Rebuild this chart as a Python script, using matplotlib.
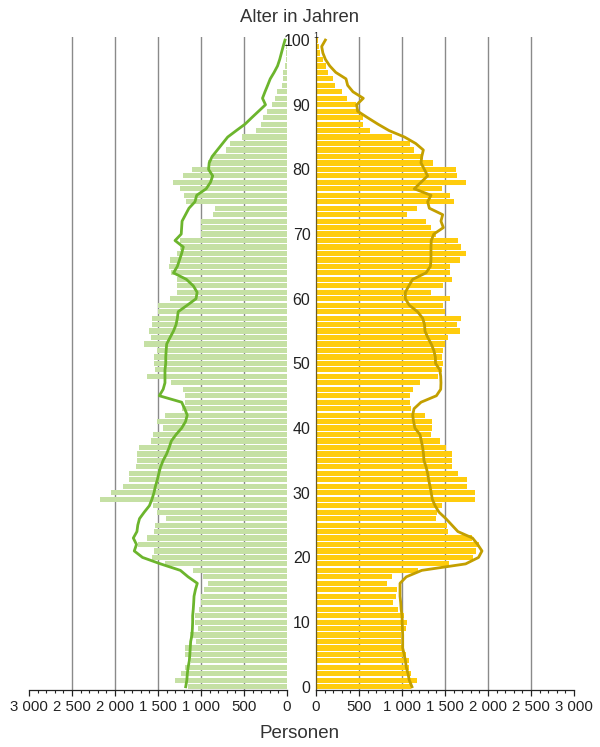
import matplotlib
matplotlib.use('Agg')
import matplotlib.pyplot as plt
from matplotlib.ticker import MultipleLocator, FixedLocator

plt.rcParams['font.family'] = ['Liberation Sans', 'DejaVu Sans']

ages = list(range(101))

male_bars = [1147, 1302, 1233, 1186, 1120, 1186, 1186, 1062, 1128, 1031,
             1070, 1070, 1020, 1000, 1000, 965, 915, 973, 1089, 1419,
             1566, 1547, 1729, 1624, 1547, 1535, 1407, 1516, 1562, 2175,
             2047, 1904, 1834, 1834, 1756, 1741, 1741, 1718, 1586, 1562,
             1438, 1508, 1419, 1225, 1186, 1186, 1213, 1349, 1632, 1535,
             1547, 1547, 1516, 1663, 1582, 1605, 1574, 1574, 1497, 1497,
             1361, 1275, 1275, 1275, 1353, 1372, 1361, 1283, 1244, 1244,
             1000, 1000, 1000, 857, 837, 1175, 1198, 1244, 1326, 1209,
             1101, 915, 857, 709, 663, 519, 360, 302, 275, 236,
             178, 140, 112, 62, 50, 50, 23, 15, 10, 6, 5]

male_line = [1178, 1165, 1159, 1150, 1136, 1130, 1125, 1120, 1105, 1100,
             1097, 1097, 1090, 1085, 1081, 1065, 1043, 1150, 1240, 1470,
             1680, 1776, 1750, 1787, 1745, 1735, 1715, 1660, 1600, 1570,
             1547, 1530, 1508, 1490, 1470, 1440, 1400, 1370, 1345, 1290,
             1225, 1180, 1160, 1190, 1225, 1485, 1440, 1419, 1419, 1419,
             1410, 1410, 1405, 1399, 1360, 1320, 1290, 1275, 1265, 1160,
             1058, 1045, 1090, 1170, 1320, 1275, 1250, 1225, 1206, 1302,
             1230, 1225, 1220, 1180, 1140, 1070, 1050, 940, 890, 864,
             912, 905, 870, 810, 750, 690, 590, 488, 410, 330,
             250, 285, 256, 225, 195, 150, 110, 85, 65, 45, 23]

female_bars = [1109, 1178, 1109, 1085, 1085, 1050, 1008, 992, 992, 1050,
               1062, 1027, 957, 899, 934, 946, 829, 888, 1190, 1550,
               1822, 1860, 1891, 1810, 1539, 1527, 1395, 1407, 1465, 1853,
               1853, 1760, 1760, 1655, 1585, 1585, 1585, 1512, 1446, 1341,
               1353, 1353, 1271, 1109, 1097, 1097, 1132, 1209, 1419, 1465,
               1481, 1465, 1473, 1504, 1539, 1678, 1640, 1686, 1504, 1481,
               1562, 1341, 1481, 1585, 1562, 1562, 1678, 1748, 1686, 1655,
               1400, 1337, 1279, 1058, 1174, 1609, 1558, 1465, 1744, 1640,
               1628, 1364, 1240, 1143, 1097, 888, 632, 550, 550, 504,
               465, 364, 306, 225, 202, 143, 116, 85, 50, 39, 27]

female_line = [1116, 1085, 1070, 1050, 1040, 1025, 1008, 1008, 1008, 1005,
               1002, 1000, 990, 985, 977, 977, 977, 1050, 1230, 1740,
               1890, 1930, 1880, 1820, 1650, 1580, 1510, 1430, 1385, 1352,
               1340, 1326, 1310, 1298, 1280, 1255, 1250, 1240, 1225, 1209,
               1150, 1135, 1124, 1140, 1221, 1400, 1450, 1453, 1450, 1440,
               1390, 1388, 1370, 1340, 1300, 1267, 1262, 1240, 1180, 1085,
               1039, 1039, 1080, 1124, 1279, 1330, 1337, 1337, 1337, 1340,
               1370, 1481, 1453, 1473, 1318, 1298, 1337, 1143, 1220, 1298,
               1260, 1221, 1230, 1248, 1160, 1030, 850, 720, 600, 484,
               473, 550, 430, 368, 349, 230, 160, 110, 80, 66, 109]

x_ticks = [0, 500, 1000, 1500, 2000, 2500, 3000]
x_tick_labels = ['0', '500', '1 000', '1 500', '2 000', '2 500', '3 000']
grid_vals = [500, 1000, 1500, 2000, 2500]
age_ticks = [0, 10, 20, 30, 40, 50, 60, 70, 80, 90, 100]
age_labels = [str(a) for a in age_ticks]

green_bar = '#c5e0a4'
green_line = '#6cb52d'
yellow_bar = '#ffcc0d'
gold_line = '#c39f00'
text_col = '#222222'

fig = plt.figure(figsize=(6, 7.47), dpi=100)
bottom = 0.0763
height = 0.8744
axL = fig.add_axes([29/600, bottom, 258/600, height])
axR = fig.add_axes([316/600, bottom, 258/600, height])

for ax in (axL, axR):
    ax.set_ylim(-0.5, 100.5)
    ax.set_xlim(0, 3000)
    for v in grid_vals:
        ax.axvline(v, color='#8a8a8a', lw=1.0, zorder=0)
    ax.set_xticks(x_ticks)
    ax.set_xticklabels(x_tick_labels)
    ax.xaxis.set_minor_locator(MultipleLocator(100))
    ax.tick_params(axis='x', which='major', length=4.5, width=0.9, color='#222222',
                   labelsize=10.8, labelcolor=text_col, pad=3)
    ax.tick_params(axis='x', which='minor', length=2.5, width=0.8, color='#222222')
    ax.spines['top'].set_visible(False)
    ax.spines['bottom'].set_color('#222222')
    ax.spines['bottom'].set_linewidth(0.9)
    ax.set_facecolor('none')

axL.invert_xaxis()
axL.barh(ages, male_bars, height=0.8, color=green_bar, zorder=2, linewidth=0)
axL.plot(male_line, ages, color=green_line, lw=2.0, zorder=3, solid_joinstyle='round')
axL.spines['left'].set_visible(False)
axL.spines['right'].set_visible(False)
axL.set_yticks([])

axR.barh(ages, female_bars, height=0.8, color=yellow_bar, zorder=2, linewidth=0)
axR.plot(female_line, ages, color=gold_line, lw=2.0, zorder=3, solid_joinstyle='round')
axR.spines['right'].set_visible(False)
axR.spines['left'].set_color('#6b5a20')
axR.spines['left'].set_linewidth(0.9)
axR.yaxis.set_major_locator(FixedLocator(age_ticks))
axR.set_yticklabels(age_labels)
axR.tick_params(axis='y', length=0, pad=4, labelsize=11.5, labelcolor=text_col)

fig.text(313/600, 1 - 36/747, '1', fontsize=6.5, color=text_col, ha='left', va='center')
fig.text(0.5, 1 - 17/747, 'Alter in Jahren', fontsize=13.3, color='#333333',
         ha='center', va='center')
fig.text(0.5, 1 - 733/747, 'Personen', fontsize=13.5, color='#333333',
         ha='center', va='center')

fig.savefig('out.png', dpi=100)
